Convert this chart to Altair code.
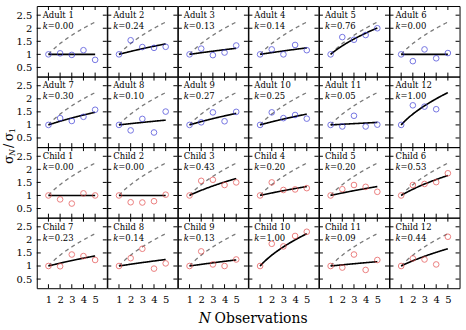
import altair as alt
import pandas as pd

# Panel names and fitted exponents k
panels = [f"Adult {i}" for i in range(1, 13)] + [f"Child {i}" for i in range(1, 13)]
k_values = [0.00, 0.24, 0.13, 0.14, 0.76, 0.00,
            0.30, 0.10, 0.27, 0.25, 0.05, 1.00,
            0.00, 0.00, 0.43, 0.20, 0.20, 0.53,
            0.23, 0.14, 0.13, 1.00, 0.09, 0.44]

# Number of observations
n_obs = [1, 2, 3, 4, 5]

# Observed sigma_N / sigma_1 for N = 1..5, one list per participant
ratios = [
    [1.00, 1.04, 0.98, 1.16, 0.79],  # Adult 1
    [1.00, 1.54, 1.28, 1.25, 1.29],  # Adult 2
    [1.00, 1.22, 0.97, 1.07, 1.34],  # Adult 3
    [1.00, 1.19, 1.00, 1.36, 1.16],  # Adult 4
    [1.00, 1.66, 1.56, 1.74, 2.00],  # Adult 5
    [1.00, 0.74, 1.19, 0.85, 1.05],  # Adult 6
    [1.00, 1.26, 1.15, 1.31, 1.58],  # Adult 7
    [1.00, 0.79, 1.23, 0.71, 1.51],  # Adult 8
    [1.00, 1.10, 1.48, 1.14, 1.50],  # Adult 9
    [1.00, 1.48, 1.26, 1.38, 1.24],  # Adult 10
    [1.00, 0.94, 1.35, 0.94, 1.01],  # Adult 11
    [1.00, 1.75, 1.70, 1.60, 3.00],  # Adult 12
    [1.00, 0.85, 0.69, 1.08, 1.00],  # Child 1
    [1.00, 0.74, 0.73, 0.78, 1.03],  # Child 2
    [1.00, 1.56, 1.60, 1.40, 1.50],  # Child 3
    [1.00, 1.50, 1.21, 1.23, 1.28],  # Child 4
    [1.00, 1.24, 1.40, 1.33, 1.14],  # Child 5
    [1.00, 1.40, 1.44, 1.51, 1.85],  # Child 6
    [1.00, 0.99, 1.44, 1.38, 1.23],  # Child 7
    [1.00, 1.30, 1.66, 0.90, 1.10],  # Child 8
    [1.00, 1.56, 1.06, 1.00, 1.25],  # Child 9
    [1.00, 1.85, 1.75, 2.15, 2.31],  # Child 10
    [1.00, 0.94, 1.44, 0.85, 1.23],  # Child 11
    [1.00, 1.29, 1.25, 1.06, 2.12],  # Child 12
]

x_ticks = [1, 2, 3, 4, 5]
y_ticks = [0.5, 1.0, 1.5, 2.0, 2.5]

SERIF = "DejaVu Serif"
ADULT_COLOR = "#3b3bd6"
CHILD_COLOR = "#e34a4a"
W, H = 70.5, 71
TICK = 4

xscale = alt.Scale(domain=[0, 6], nice=False, zero=False)
yscale = alt.Scale(domain=[0.15, 2.85], nice=False, zero=False)


def make_panel(i):
    name = panels[i]
    k = k_values[i]
    row, col = divmod(i, 6)
    color = ADULT_COLOR if name.startswith("Adult") else CHILD_COLOR

    xaxis = (alt.Axis(values=x_ticks, format="d", ticks=False, domain=False, grid=False,
                      labelFont=SERIF, labelFontSize=10, labelColor="black",
                      labelPadding=6, title=None)
             if row == 3 else None)
    yaxis = (alt.Axis(values=y_ticks, format="~g", ticks=False, domain=False, grid=False,
                      labelFont=SERIF, labelFontSize=10, labelColor="black",
                      labelPadding=5, title=None)
             if col == 0 else None)

    pts = pd.DataFrame({"N": n_obs, "ratio": ratios[i]})
    curve_src = alt.Chart(alt.sequence(1, 5.001, 0.05, as_="N")).transform_calculate(
        ideal="sqrt(datum.N)",
        fit=f"sqrt(1 + {k} * (datum.N - 1))",
    )

    ideal = curve_src.mark_line(color="#7a7a7a", strokeDash=[4, 3.5], strokeWidth=1.3).encode(
        x=alt.X("N:Q", scale=xscale, axis=xaxis),
        y=alt.Y("ideal:Q", scale=yscale, axis=yaxis),
    )
    fit = curve_src.mark_line(color="black", strokeWidth=1.6).encode(
        x=alt.X("N:Q", scale=xscale, axis=xaxis),
        y=alt.Y("fit:Q", scale=yscale, axis=yaxis),
    )
    dots = alt.Chart(pts).mark_point(shape="circle", filled=False, size=32, clip=True,
                                     color=color, strokeWidth=1).encode(
        x=alt.X("N:Q", scale=xscale, axis=xaxis),
        y=alt.Y("ratio:Q", scale=yscale, axis=yaxis),
    )

    # inward ticks on all four sides of the panel
    ydf = pd.DataFrame({"v": y_ticks})
    xdf = pd.DataFrame({"v": x_ticks})
    tl = alt.Chart(ydf).mark_rule(color="black", strokeWidth=1).encode(
        y=alt.Y("v:Q", scale=yscale, axis=yaxis), x=alt.value(0), x2=alt.value(TICK))
    tr = alt.Chart(ydf).mark_rule(color="black", strokeWidth=1).encode(
        y=alt.Y("v:Q", scale=yscale, axis=yaxis), x=alt.value(W - TICK), x2=alt.value(W))
    tb = alt.Chart(xdf).mark_rule(color="black", strokeWidth=1).encode(
        x=alt.X("v:Q", scale=xscale, axis=xaxis), y=alt.value(H - TICK), y2=alt.value(H))
    tt = alt.Chart(xdf).mark_rule(color="black", strokeWidth=1).encode(
        x=alt.X("v:Q", scale=xscale, axis=xaxis), y=alt.value(0), y2=alt.value(TICK))

    lab = pd.DataFrame({"name": [name], "kval": [f"={k:.2f}"]})
    name_txt = alt.Chart(lab).mark_text(align="left", baseline="alphabetic", font=SERIF,
                                        fontSize=8.5, color="black").encode(
        text="name:N", x=alt.value(6), y=alt.value(12))
    k_sym = alt.Chart(lab).mark_text(align="left", baseline="alphabetic", font=SERIF,
                                     fontSize=8.5, fontStyle="italic", color="black").encode(
        text=alt.value("k"), x=alt.value(6), y=alt.value(23))
    k_txt = alt.Chart(lab).mark_text(align="left", baseline="alphabetic", font=SERIF,
                                     fontSize=8.5, color="black").encode(
        text="kval:N", x=alt.value(11), y=alt.value(23))

    layers = [ideal, fit, dots, tl, tr, tb, tt, name_txt, k_sym, k_txt]

    # shared axis titles, drawn once
    if name == "Adult 7":
        parts = [("σ", 13, "normal", -17, 0), ("N", 8, "italic", -9, 4),
                 ("/", 13, "normal", -1, 0), ("σ", 13, "normal", 6, 0),
                 ("1", 8, "normal", 14, 4)]
        for text, size, style, dx, dy in parts:
            layers.append(alt.Chart(lab).mark_text(
                align="left", baseline="middle", angle=270, font=SERIF, fontSize=size,
                fontStyle=style, dx=dx, dy=dy, color="black").encode(
                text=alt.value(text), x=alt.value(-28), y=alt.value(H)))
    if name == "Child 9":
        layers.append(alt.Chart(lab).mark_text(
            align="left", baseline="alphabetic", font=SERIF, fontSize=14,
            fontStyle="italic", color="black").encode(
            text=alt.value("N"), x=alt.value(21), y=alt.value(H + 35)))
        layers.append(alt.Chart(lab).mark_text(
            align="left", baseline="alphabetic", font=SERIF, fontSize=14,
            color="black").encode(
            text=alt.value("Observations"), x=alt.value(37), y=alt.value(H + 35)))

    return alt.layer(*layers).properties(width=W, height=H)


chart = alt.concat(*[make_panel(i) for i in range(24)], columns=6, spacing=0,
                   bounds="flush").properties(
    padding={"left": 2, "top": 4, "right": 5, "bottom": 4},
    background="white",
).configure_view(stroke="black", strokeWidth=1)

chart.save("out.html", embed_options={"renderer": "svg", "actions": False})
